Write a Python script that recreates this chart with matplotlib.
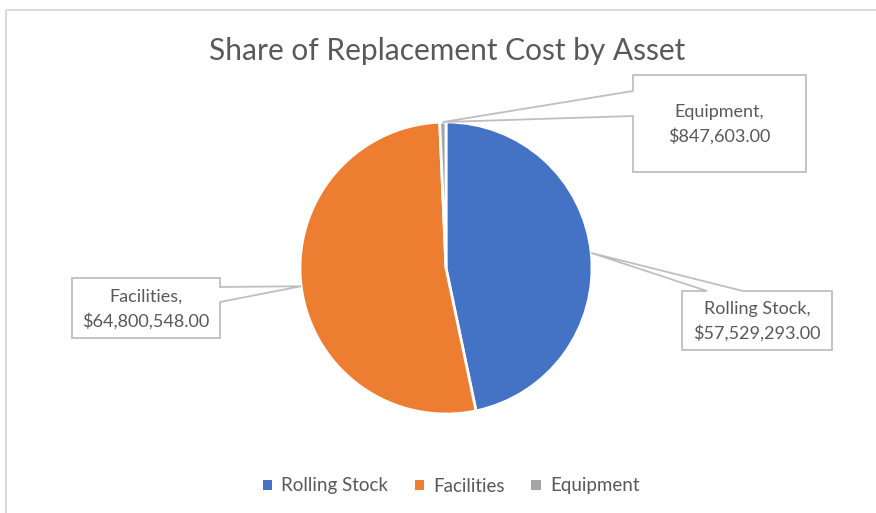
import numpy as np
from matplotlib import pyplot as plt
from matplotlib.patches import Polygon, Rectangle, Patch

plt.rcParams['font.family'] = ['Lato', 'DejaVu Sans']

assets = ["Rolling Stock", "Facilities", "Equipment"]
costs = [57529293.00, 64800548.00, 847603.00]
colors = ["#4472C4", "#ED7D31", "#A5A5A5"]
title = "Share of Replacement Cost by Asset"

TEXT = "#595959"
LINE = "#BFBFBF"

fig = plt.figure(figsize=(8.76, 5.13), dpi=100)
ax = fig.add_axes([0, 0, 1, 1])

# pie drawn in pixel-like coords, y axis inverted afterwards
cx, cy, R = 446, 268, 146
wedges, _ = ax.pie(costs, colors=colors, center=(cx, cy), radius=R,
                   startangle=-90, counterclock=True,
                   wedgeprops=dict(edgecolor="white", linewidth=2))
ax.set_xlim(0, 876)
ax.set_ylim(513, 0)
ax.set_aspect("equal")
ax.axis("off")

# anchor points at the middle of each wedge's rim
anchors = []
for w in wedges:
	a = np.deg2rad((w.theta1 + w.theta2) / 2)
	anchors.append((cx + R * np.cos(a), cy + R * np.sin(a)))

def callout(box, anchor, side, n1, n2, text):
	x0, y0, x1, y1 = box
	if side == "left":
		pts = [(x0, y0), (x1, y0), (x1, y1), (x0, y1), (x0, n2), anchor, (x0, n1)]
	elif side == "right":
		pts = [(x0, y0), (x1, y0), (x1, n1), anchor, (x1, n2), (x1, y1), (x0, y1)]
	else:  # top
		pts = [(x0, y0), (n1, y0), anchor, (n2, y0), (x1, y0), (x1, y1), (x0, y1)]
	ax.add_patch(Polygon(pts, closed=True, facecolor="white", edgecolor=LINE,
	                     linewidth=1.3, zorder=5))
	ax.text((x0 + x1) / 2, (y0 + y1) / 2 + 1, text, ha="center", va="center",
	        fontsize=13, color=TEXT, linespacing=1.55, zorder=6)

def money(v):
	return "${:,.2f}".format(v)

callout((682, 291, 832, 350), anchors[0], "top", 707, 743,
        "{},\n{}".format(assets[0], money(costs[0])))
callout((72, 278, 220, 338), anchors[1], "right", 287, 302,
        "{},\n{}".format(assets[1], money(costs[1])))
callout((633, 75, 806, 172), anchors[2], "left", 91, 116,
        "{},\n{}".format(assets[2], money(costs[2])))

# chart area border
ax.add_patch(Rectangle((5.5, 9.5), 900, 600, fill=False, edgecolor="#D9D9D9",
                       linewidth=1.5, zorder=1))

ax.text(447, 51, title, ha="center", va="center", fontsize=21.5, color=TEXT)

handles = [Patch(facecolor=c, edgecolor="none") for c in colors]
fig.legend(handles, assets, loc="center", bbox_to_anchor=(451 / 876, 1 - 486 / 513),
           ncol=3, frameon=False, fontsize=13.5, labelcolor=TEXT,
           handlelength=0.5, handleheight=0.5, handletextpad=0.5, columnspacing=1.4)

plt.savefig("out.png", dpi=100)
